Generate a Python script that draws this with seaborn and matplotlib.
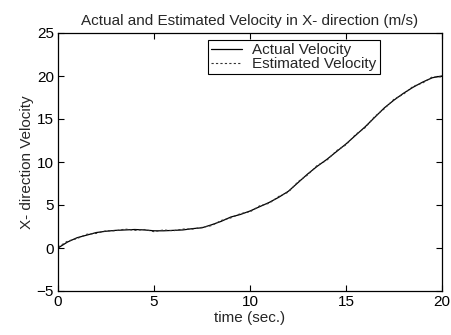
import numpy as np
import pandas as pd
import matplotlib
matplotlib.use("Agg")
import matplotlib.pyplot as plt
import seaborn as sns

time = [0, 0.5, 1, 1.5, 2, 2.5, 3, 3.5, 4, 4.5, 5, 5.5, 6, 6.5, 7, 7.5, 8, 8.5, 9, 9.5,
        10, 10.5, 11, 11.5, 12, 12.5, 13, 13.5, 14, 14.5, 15, 15.5, 16, 16.5, 17, 17.5,
        18, 18.5, 19, 19.5, 20]
actual = [0, 0.7, 1.2, 1.5, 1.8, 1.95, 2.05, 2.1, 2.15, 2.1, 2.0, 2.0, 2.05, 2.1, 2.25, 2.35,
          2.7, 3.1, 3.6, 3.9, 4.3, 4.8, 5.3, 5.9, 6.6, 7.6, 8.6, 9.5, 10.3, 11.2, 12.1, 13.1,
          14.1, 15.2, 16.3, 17.2, 18.0, 18.7, 19.3, 19.8, 20.0]
estimated = [0.1, 0.8, 1.1, 1.6, 1.7, 2.0, 2.0, 2.2, 2.05, 2.15, 1.9, 2.1, 2.0, 2.2, 2.2, 2.4,
             2.6, 3.2, 3.5, 4.0, 4.2, 4.9, 5.2, 6.0, 6.5, 7.7, 8.5, 9.6, 10.2, 11.3, 12.0, 13.2,
             14.0, 15.3, 16.2, 17.3, 17.9, 18.8, 19.2, 19.9, 19.9]

df = pd.DataFrame({"t": time, "Actual Velocity": actual, "Estimated Velocity": estimated})

sns.set_style("ticks")
plt.rcParams["font.family"] = ["Liberation Sans", "DejaVu Sans"]
plt.rcParams["font.size"] = 11

fig = plt.figure(figsize=(4.51, 3.35), dpi=100)
ax = fig.add_axes([58/451, 1 - 291/335, (442-58)/451, (291-33)/335])

sns.lineplot(data=df, x="t", y="Actual Velocity", ax=ax, color="black", lw=0.9,
             label="Actual Velocity")
sns.lineplot(data=df, x="t", y="Estimated Velocity", ax=ax, color="#333333", lw=0.8,
             linestyle=(0, (2, 2)), label="Estimated Velocity")

ax.set_xlim(0, 20)
ax.set_ylim(-5, 25)
ax.set_xticks([0, 5, 10, 15, 20])
ax.set_yticks([-5, 0, 5, 10, 15, 20, 25])
ax.tick_params(direction="in", top=True, right=True, length=4, width=0.8,
               labelsize=11, colors="black", pad=3)
for s in ax.spines.values():
    s.set_color("black")
    s.set_linewidth(0.9)
ax.set_xlabel("time (sec.)", fontsize=11, labelpad=1)
ax.set_ylabel("X- direction Velocity", fontsize=11, labelpad=2)
ax.set_title("Actual and Estimated Velocity in X- direction (m/s)", fontsize=11, pad=6)

leg = ax.legend(loc="upper left", bbox_to_anchor=((208-58)/384, 1 - (40-33)/258),
                frameon=True, fancybox=False, framealpha=1, edgecolor="black",
                fontsize=11, handlelength=2.0, borderpad=0.2, labelspacing=0.0,
                handletextpad=0.7, borderaxespad=0)
leg.get_frame().set_linewidth(0.8)

fig.savefig("out.png", dpi=100)
